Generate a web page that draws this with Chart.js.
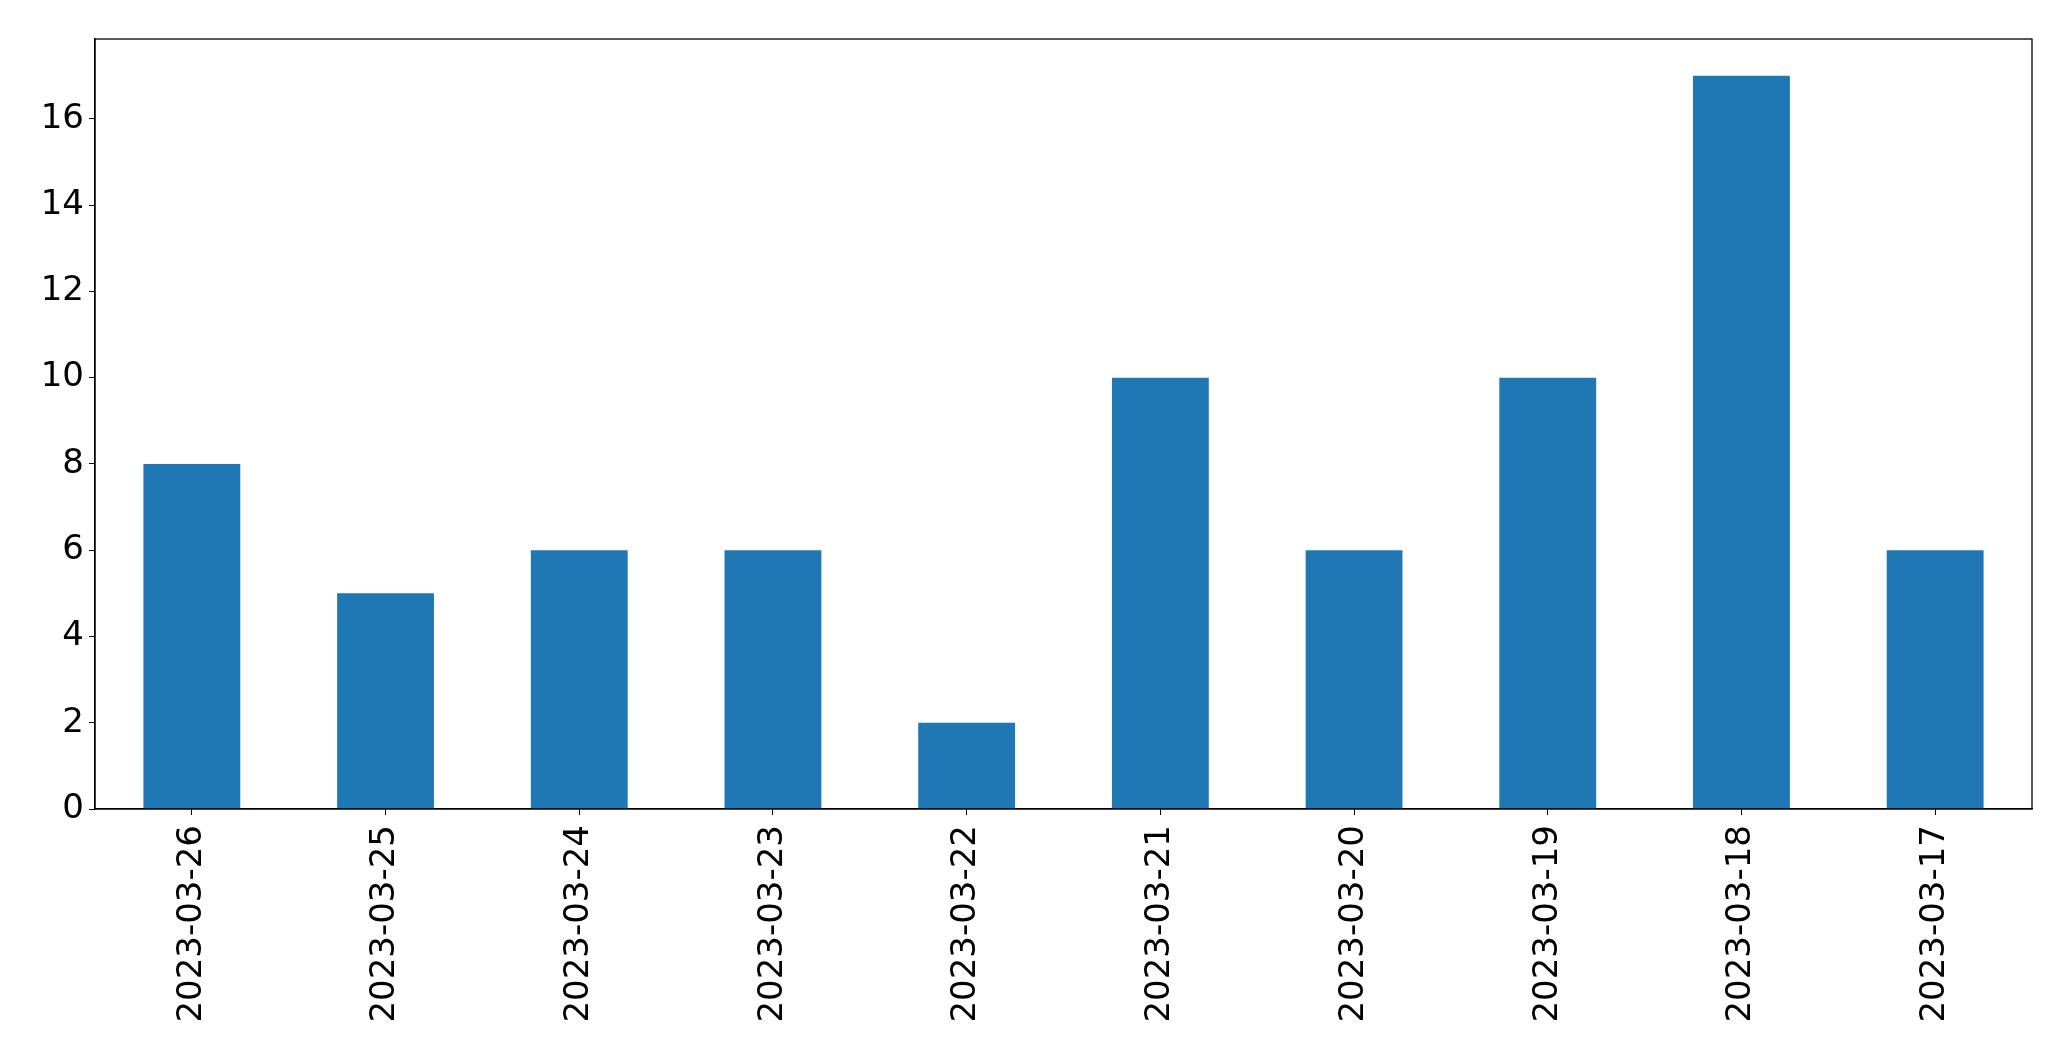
<!DOCTYPE html>
<html>
<head>
<meta charset="utf-8">
<script src="https://cdn.jsdelivr.net/npm/chart.js@4.4.0/dist/chart.umd.min.js"></script>
<style>
  body { margin: 0; background: #fff; }
  #wrap { width: 2071px; height: 1061px; }
</style>
</head>
<body>
<div id="wrap"><canvas id="chart" width="2071" height="1061"></canvas></div>
<script>
var dates = ['2023-03-26', '2023-03-25', '2023-03-24', '2023-03-23', '2023-03-22',
             '2023-03-21', '2023-03-20', '2023-03-19', '2023-03-18', '2023-03-17'];
var counts = [8, 5, 6, 6, 2, 10, 6, 10, 17, 6];
var yTicks = [0, 2, 4, 6, 8, 10, 12, 14, 16];

// box round the plot area, like matplotlib's spines
var frame = {
    id: 'frame',
    afterDraw: function(chart) {
        var a = chart.chartArea;
        var ctx = chart.ctx;
        ctx.save();
        ctx.strokeStyle = '#000';
        ctx.lineWidth = 1.3;
        ctx.strokeRect(a.left, a.top, a.right - a.left, a.bottom - a.top);
        ctx.restore();
    }
};

var font = { family: 'DejaVu Sans', size: 34 };

new Chart(document.getElementById('chart').getContext('2d'), {
    type: 'bar',
    data: {
        labels: dates,
        datasets: [{
            data: counts,
            backgroundColor: '#1f77b4',
            borderWidth: 0,
            barPercentage: 0.5,
            categoryPercentage: 1.0
        }]
    },
    options: {
        responsive: false,
        devicePixelRatio: 1,
        animation: false,
        layout: { padding: { left: 0, top: 39, right: 39, bottom: 0 } },
        plugins: { legend: { display: false }, tooltip: { enabled: false } },
        scales: {
            x: {
                grid: { offset: false, drawOnChartArea: false, drawTicks: true, tickLength: 6, color: '#000' },
                border: { display: true, color: '#000', width: 1.3 },
                ticks: { color: '#000', font: font, minRotation: 90, maxRotation: 90, padding: 10, autoSkip: false },
                afterFit: function(scale) { scale.height = 252; }
            },
            y: {
                min: 0,
                max: 17.85,
                grid: { drawOnChartArea: false, drawTicks: true, tickLength: 6, color: '#000' },
                border: { display: true, color: '#000', width: 1.3 },
                ticks: { color: '#000', font: font, padding: 5 },
                afterBuildTicks: function(scale) {
                    scale.ticks = yTicks.map(function(v) { return { value: v }; });
                },
                afterFit: function(scale) { scale.width = 95; }
            }
        }
    },
    plugins: [frame]
});
</script>
</body>
</html>
